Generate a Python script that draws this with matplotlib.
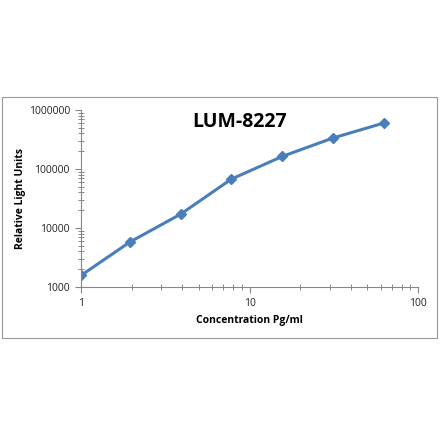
import matplotlib
matplotlib.use('Agg')
import matplotlib.pyplot as plt
from matplotlib.patches import Rectangle
from matplotlib.ticker import LogLocator, FixedLocator, NullFormatter

# dados
concentracao = [1, 1.953, 3.906, 7.8125, 15.625, 31.25, 62.5]
rlu = [1570, 5800, 17200, 67500, 163000, 335000, 600000]

azul = '#4A7EBB'
cinza = '#868686'

fig = plt.figure(figsize=(4.4, 4.41), dpi=100)
fig.patch.set_facecolor('white')

# moldura externa do grafico (estilo Excel)
fig.patches.append(Rectangle((2 / 440, 1 - 338 / 441), 435 / 440, 241 / 441,
                             transform=fig.transFigure, fill=False,
                             edgecolor='#9a9a9a', linewidth=0.8))

ax = fig.add_axes([81 / 440, 1 - 287 / 441, 337 / 440, 177 / 441])
ax.plot(concentracao, rlu, color=azul, linewidth=2.2, marker='D',
        markersize=5.5, markerfacecolor=azul, markeredgecolor=azul)
ax.set_xscale('log')
ax.set_yscale('log')
ax.set_xlim(1, 100)
ax.set_ylim(1000, 1000000)

for lado in ['top', 'right']:
    ax.spines[lado].set_visible(False)
for lado in ['left', 'bottom']:
    ax.spines[lado].set_color(cinza)
    ax.spines[lado].set_linewidth(0.8)

ax.xaxis.set_major_locator(FixedLocator([1, 10, 100]))
ax.set_xticklabels(['1', '10', '100'])
ax.xaxis.set_minor_locator(LogLocator(base=10, subs=range(2, 10)))
ax.xaxis.set_minor_formatter(NullFormatter())
ax.yaxis.set_major_locator(FixedLocator([1000, 10000, 100000, 1000000]))
ax.set_yticklabels(['1000', '10000', '100000', '1000000'])
ax.yaxis.set_minor_locator(LogLocator(base=10, subs=range(2, 10)))
ax.yaxis.set_minor_formatter(NullFormatter())

ax.tick_params(axis='both', which='major', direction='out', length=4,
               color=cinza, width=0.8, labelsize=7.5, labelcolor='#222222', pad=4)
ax.tick_params(axis='both', which='minor', direction='inout', length=4,
               color=cinza, width=0.7)
for lbl in ax.get_xticklabels() + ax.get_yticklabels():
    lbl.set_fontfamily('Open Sans')

ax.set_xlabel('Concentration Pg/ml', fontsize=7.5, fontweight='bold',
              family='Open Sans', labelpad=4.5)
ax.set_ylabel('Relative Light Units', fontsize=7.5, fontweight='bold',
              family='Open Sans', labelpad=2)

fig.text(240 / 440, 1 - 122 / 441, 'LUM-8227', fontsize=14, fontweight='bold',
         family='Open Sans', ha='center', va='center')

fig.savefig('out.png', dpi=100, facecolor='white')
